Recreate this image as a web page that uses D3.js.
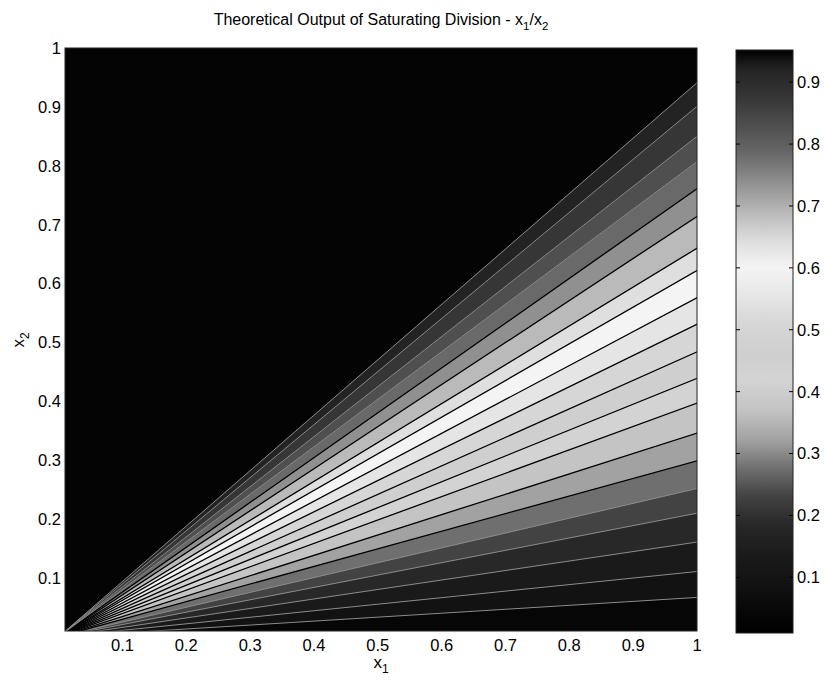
<!DOCTYPE html>
<html><head><meta charset="utf-8">
<script src="https://cdn.jsdelivr.net/npm/d3@7"></script>
<style>
html,body{margin:0;padding:0;background:#fff;}
text{font-family:"Liberation Sans",Arial,sans-serif;fill:#000;}
</style></head>
<body>
<svg id="chart" width="825" height="686"></svg>
<script>
// ---- data ----
const xTicks = [0.1,0.2,0.3,0.4,0.5,0.6,0.7,0.8,0.9,1];
const yTicks = [0.1,0.2,0.3,0.4,0.5,0.6,0.7,0.8,0.9,1];
const cbTicks = [0.1,0.2,0.3,0.4,0.5,0.6,0.7,0.8,0.9];
const axisDomain = [0.01, 1];
const zRange = [0.01, 0.952];
// contour levels: value of x2 where each line meets x1 = 1 (lines are x2 = level * x1)
const levels = [0.067,0.111,0.161,0.210,0.252,0.299,0.346,0.397,0.439,0.484,0.531,0.576,0.622,0.660,0.714,0.761,0.807,0.850,0.901,0.941];
// grayscale colormap as it appears in the picture
const cmapStops = [0.01,0.04,0.09,0.135,0.185,0.23,0.275,0.32,0.37,0.42,0.46,0.51,0.555,0.6,0.64,0.69,0.74,0.785,0.83,0.875,0.92,0.945,0.952];
const cmapGrays = [0,6,18,26,40,66,110,160,196,212,207,214,230,244,224,184,142,104,78,54,36,8,4];

// ---- layout ----
const svg = d3.select("#chart");
const L = 65, R = 697, T = 48, B = 631;
const x = d3.scaleLinear().domain(axisDomain).range([L, R]);
const y = d3.scaleLinear().domain(axisDomain).range([B, T]);
const gray = d3.scaleLinear().domain(cmapStops).range(cmapGrays).clamp(true);
const col = v => { const g = Math.round(gray(v)); return `rgb(${g},${g},${g})`; };

svg.append("defs").append("clipPath").attr("id","plotclip")
  .append("rect").attr("x",L).attr("y",T).attr("width",R-L).attr("height",B-T);

const plot = svg.append("g").attr("clip-path","url(#plotclip)");
// region above highest level (saturated)
plot.append("rect").attr("x",L).attr("y",T).attr("width",R-L).attr("height",B-T)
  .attr("fill", col(zRange[1]));

const line = d3.line().x(d=>x(d[0])).y(d=>y(d[1]));
const bands = [];
for (let i = 0; i < levels.length; i++) {
  const lo = i === 0 ? 0 : levels[i-1];
  const hi = levels[i];
  const mid = i === 0 ? (zRange[0]+hi)/2 : (lo+hi)/2;
  bands.push({lo, hi, mid});
}
plot.selectAll("path.band").data(bands).enter().append("path")
  .attr("class","band")
  .attr("d", d => line([[0,0],[1.05,d.lo*1.05],[1.05,d.hi*1.05],[0,0]]) + "Z")
  .attr("fill", d => col(d.mid))
  .attr("stroke", d => col(d.mid)).attr("stroke-width",0.5);

plot.selectAll("path.cline").data(levels).enter().append("path")
  .attr("class","cline")
  .attr("d", lv => line([[0,0],[1.05,lv*1.05]]))
  .attr("fill","none")
  .attr("stroke", lv => gray(lv) < 120 ? "#8c8c8c" : "#000")
  .attr("stroke-width", lv => gray(lv) < 120 ? 1 : 1.3);

// axes box
svg.append("rect").attr("x",L).attr("y",T).attr("width",R-L).attr("height",B-T)
  .attr("fill","none").attr("stroke","#222").attr("stroke-width",1);

// tick labels
const fs = 16.5;
svg.append("g").selectAll("text").data(xTicks).enter().append("text")
  .attr("x", d=>x(d)).attr("y", 651).attr("text-anchor","middle")
  .attr("font-size",fs).text(d=>d3.format("")(d));
svg.append("g").selectAll("text").data(yTicks).enter().append("text")
  .attr("x", 61).attr("y", d=>y(d)).attr("dy","0.36em").attr("text-anchor","end")
  .attr("font-size",fs).text(d=>d3.format("")(d));

// axis labels
const xl = svg.append("text").attr("x",(L+R)/2).attr("y",668).attr("text-anchor","middle").attr("font-size",17);
xl.append("tspan").text("x");
xl.append("tspan").attr("dy",5).attr("font-size",12).text("1");
const yl = svg.append("text").attr("transform","translate(24,340) rotate(-90)").attr("text-anchor","middle").attr("font-size",17);
yl.append("tspan").text("x");
yl.append("tspan").attr("dy",5).attr("font-size",12).text("2");

// title
const tt = svg.append("text").attr("x",(L+R)/2).attr("y",25).attr("text-anchor","middle").attr("font-size",16);
tt.append("tspan").text("Theoretical Output of Saturating Division - x");
tt.append("tspan").attr("dy",5).attr("font-size",11.5).text("1");
tt.append("tspan").attr("dy",-5).text("/x");
tt.append("tspan").attr("dy",5).attr("font-size",11.5).text("2");

// colorbar
const CL = 736, CR = 793, CT = 50, CB = 633;
const cy = d3.scaleLinear().domain(zRange).range([CB, CT]);
const grad = svg.select("defs").append("linearGradient").attr("id","cbgrad")
  .attr("x1",0).attr("y1",1).attr("x2",0).attr("y2",0);
const nStops = 120;
grad.selectAll("stop").data(d3.range(nStops+1)).enter().append("stop")
  .attr("offset", i => i/nStops)
  .attr("stop-color", i => col(zRange[0] + (zRange[1]-zRange[0])*i/nStops));
svg.append("rect").attr("x",CL).attr("y",CT).attr("width",CR-CL).attr("height",CB-CT)
  .attr("fill","url(#cbgrad)").attr("stroke","#222").attr("stroke-width",1);
const cbt = svg.append("g");
cbt.selectAll("line.l").data(cbTicks).enter().append("line")
  .attr("x1",CL).attr("x2",CL+4).attr("y1",d=>cy(d)).attr("y2",d=>cy(d)).attr("stroke","#000");
cbt.selectAll("line.r").data(cbTicks).enter().append("line")
  .attr("x1",CR-4).attr("x2",CR).attr("y1",d=>cy(d)).attr("y2",d=>cy(d)).attr("stroke","#000");
cbt.selectAll("text").data(cbTicks).enter().append("text")
  .attr("x",CR+4).attr("y",d=>cy(d)).attr("dy","0.36em").attr("font-size",fs)
  .text(d=>d3.format("")(d));
</script>
</body></html>
